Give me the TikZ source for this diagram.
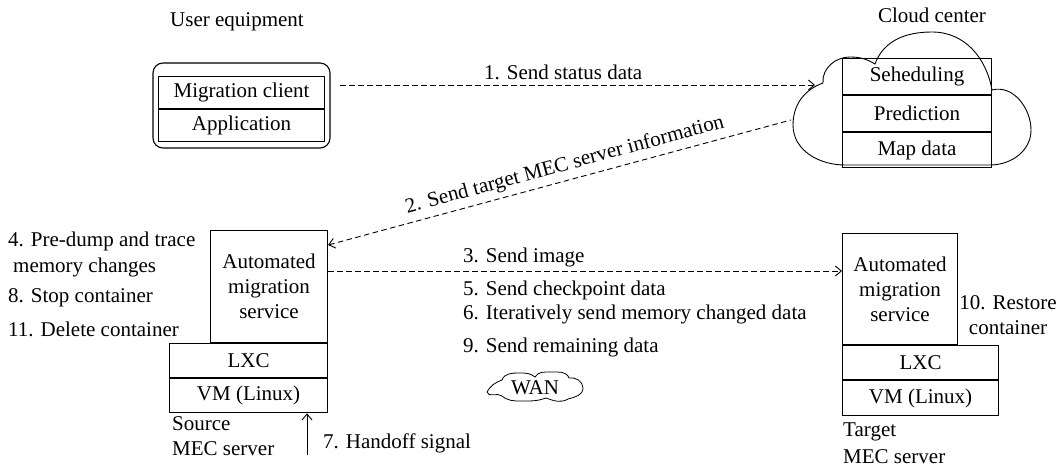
\documentclass[tikz,border=0pt]{standalone}
\usepackage{fontspec}
\setmainfont{Liberation Serif}
\usetikzlibrary{arrows.meta}
\begin{document}
\begin{tikzpicture}[x=1pt,y=-1pt,
  every node/.style={font=\fontsize{21}{25}\selectfont, inner sep=0pt},
  box/.style={draw, line width=1.1pt},
  thinline/.style={line width=0.9pt},
  dasharrow/.style={draw, line width=0.9pt, dash pattern=on 5.5pt off 3.5pt, -{Straight Barb[length=6pt,width=10pt]}},
  dasharrowrev/.style={draw, line width=0.9pt, dash pattern=on 5.5pt off 3.5pt, {Straight Barb[length=6pt,width=10pt]}-},
  solidarrow/.style={draw, line width=0.9pt, -{Straight Barb[length=6pt,width=10pt]}},
  lbl/.style={anchor=west}]
\useasboundingbox (0,0) rectangle (1060,468);

% ---------- User equipment ----------
\node[box, rounded corners=10pt, minimum width=177pt, minimum height=85pt] (ue) at (241.5,105.5) {};
\node[box, minimum width=166pt, minimum height=32pt, anchor=north west] (mc) at (158,76) {Migration client};
\node[box, minimum width=166pt, minimum height=32pt, anchor=north] (app) at (mc.south) {Application};
\node (uelabel) at (237,22) {User equipment};

% ---------- Cloud center ----------
\draw[thinline] (845,165) to[out=180,in=-90] (793,125) to[out=90,in=200] (823,83)
  to[out=95,in=180] (850,57) to[out=0,in=150] (875,64)
  to[out=70,in=180] (932,32) to[out=0,in=100] (992,90)
  to[out=15,in=90] (1031,130) to[out=-90,in=0] (990,165) -- cycle;
\node[box, minimum width=149pt, minimum height=36pt, anchor=north west] (sch) at (842,58) {Seheduling};
\node[box, minimum width=149pt, minimum height=36pt, anchor=north] (pre) at (sch.south) {Prediction};
\node[box, minimum width=149pt, minimum height=35pt, anchor=north] (map) at (pre.south) {Map data};
\node (cloudlabel) at (932,15) {Cloud center};
\coordinate (c1) at (815,85);
\coordinate (c2) at (791,120);

% ---------- Source MEC server ----------
\node[box, minimum width=117pt, minimum height=112pt, anchor=north west, align=center] (sams) at (210,230) {Automated\\migration\\service};
\node[box, minimum width=158pt, minimum height=34pt, anchor=north east] (slxc) at (sams.south east) {LXC};
\node[box, minimum width=158pt, minimum height=34pt, anchor=north] (svm) at (slxc.south) {VM (Linux)};
\node[lbl] (t4a) at (8,241) {4. Pre-dump and trace};
\node[lbl] (t4b) at (13,267) {memory changes};
\node[lbl] (t8) at (8,298) {8. Stop container};
\node[lbl] (t11) at (8,329) {11. Delete container};
\node[lbl] (src1) at (172,424) {Source};
\node[lbl] (src2) at (172,449) {MEC server};

% ---------- Target MEC server ----------
\node[box, minimum width=115pt, minimum height=111pt, anchor=north west, align=center] (tams) at (842,233) {Automated\\migration\\service};
\node[box, minimum width=156pt, minimum height=34pt, anchor=north west] (tlxc) at (tams.south west) {LXC};
\node[box, minimum width=156pt, minimum height=35pt, anchor=north] (tvm) at (tlxc.south) {VM (Linux)};
\node[align=center] (t10) at (1008,315.5) {10. Restore\\container};
\node[lbl] (tg1) at (843,432) {Target};
\node[lbl] (tg2) at (843,457) {MEC server};

% ---------- Messages ----------
\coordinate (a1s) at (340,85);
\draw[dasharrow] (a1s) -- node[pos=0.47, above=5pt] (l1) {1. Send status data} (c1);
\draw[dasharrowrev] ([yshift=-15pt]sams.north east) -- node[pos=0.52, sloped, above=5pt] (l2) {2. Send target MEC server information} (c2);
\draw[dasharrow] ([yshift=-41pt]sams.north east) -- ([yshift=-38pt]tams.north west);
\node[lbl] (t3) at (463,257) {3. Send image};
\node[lbl] (t5) at (463,290) {5. Send checkpoint data};
\node[lbl] (t6) at (463,314) {6. Iteratively send memory changed data};
\node[lbl] (t9) at (463,347) {9. Send remaining data};

% WAN cloud
\draw[line width=0.8pt] (487,392) to[out=60,in=200] (502,380)
  to[out=70,in=180] (519,373) to[out=0,in=140] (535,377)
  to[out=60,in=180] (551,372) to[out=0,in=110] (569,378)
  to[out=10,in=90] (583,388) to[out=-90,in=15] (568,399)
  to[out=-150,in=-20] (546,398) to[out=-160,in=0] (521,401)
  to[out=180,in=-40] (502,396) to[out=140,in=-80] cycle;
\node (wan) at (535,388) {WAN};

\coordinate (h7) at (307,455);
\draw[solidarrow] (h7) -- (h7 |- svm.south);
\node[lbl] (t7) at (323,443) {7. Handoff signal};
\end{tikzpicture}
\end{document}
